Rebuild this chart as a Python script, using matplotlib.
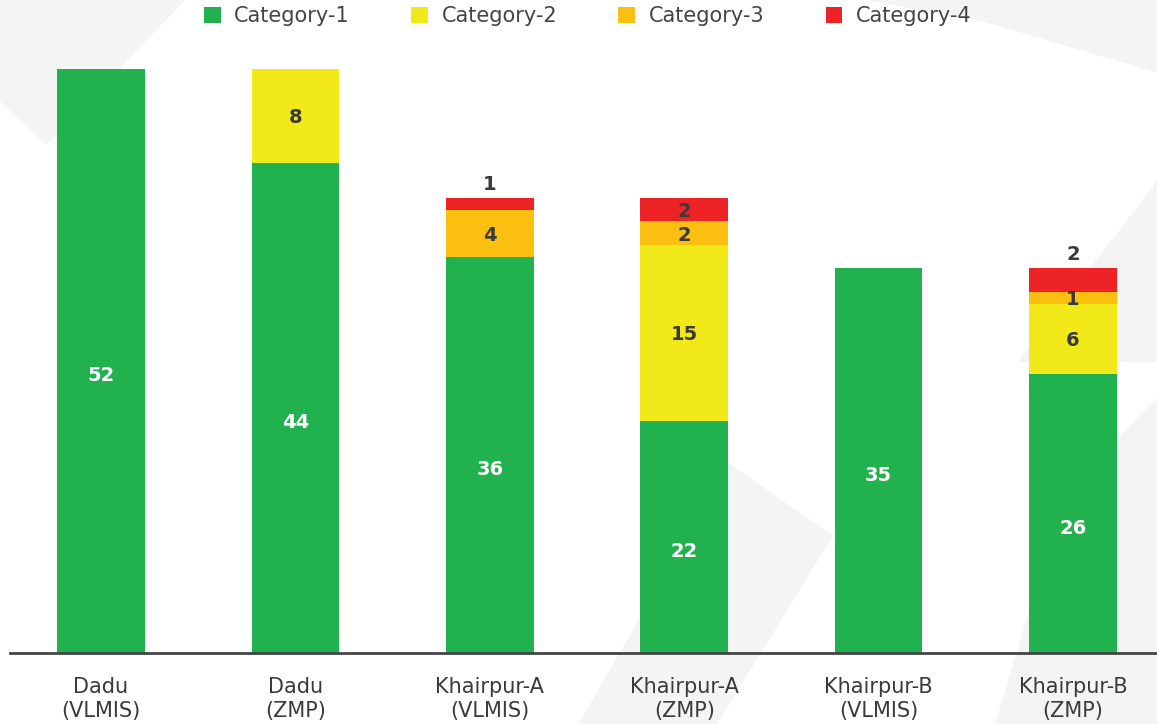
import matplotlib
matplotlib.use("Agg")
import matplotlib.pyplot as plt
from matplotlib.patches import Patch, Polygon

# Datos del grafico
categorias = ["Dadu\n(VLMIS)", "Dadu\n(ZMP)", "Khairpur-A\n(VLMIS)",
              "Khairpur-A\n(ZMP)", "Khairpur-B\n(VLMIS)", "Khairpur-B\n(ZMP)"]
series = ["Category-1", "Category-2", "Category-3", "Category-4"]
cat1 = [52, 44, 36, 22, 35, 26]
cat2 = [0, 8, 0, 15, 0, 6]
cat3 = [0, 0, 4, 2, 0, 1]
cat4 = [0, 0, 1, 2, 0, 2]
# etiquetas que van encima de la barra (serie 4)
encima = [False, False, True, False, False, True]

colores = ["#21b24f", "#f2ea18", "#fbbf10", "#ee2325"]
color_txt = ["white", "#3a3a3a", "#3a3a3a", "#3a3a3a"]

plt.rcParams['font.family'] = ['DejaVu Sans']

W, H = 1157, 724
fig = plt.figure(figsize=(W / 100, H / 100), dpi=100)
fig.patch.set_facecolor("white")

# fondo con formas geometricas suaves (eje de fondo)
fondo = fig.add_axes([0, 0, 1, 1], zorder=-1)
fondo.set_xlim(0, 1)
fondo.set_ylim(0, 1)
fondo.axis("off")
formas = [
    [(0, 1), (0.16, 1), (0.04, 0.80), (0, 0.86)],
    [(0.50, 0.0), (0.62, 0.0), (0.72, 0.26), (0.63, 0.36)],
    [(0.86, 0.0), (1.0, 0.0), (1.0, 0.45), (0.92, 0.32)],
    [(0.88, 0.5), (1.0, 0.75), (1.0, 0.5)],
    [(0.75, 1.0), (1.0, 1.0), (1.0, 0.9), (0.85, 0.97)],
]
for f in formas:
    fondo.add_patch(Polygon(f, closed=True, facecolor="#f4f4f4", edgecolor="none"))

ax = fig.add_axes([10 / W, 1 - 653 / H, (W - 10) / W, (653 - 69) / H])
ax.patch.set_alpha(0)

x = list(range(len(categorias)))
ancho = 0.45
capas = [cat1, cat2, cat3, cat4]
base = [0] * len(x)
for k, valores in enumerate(capas):
    ax.bar(x, valores, ancho, bottom=base, color=colores[k], zorder=2)
    for i, v in enumerate(valores):
        if v == 0:
            continue
        if k == 3 and encima[i]:
            ax.annotate(str(v), (i, base[i] + v), xytext=(0, 10), textcoords="offset points",
                        ha="center", va="center", fontsize=14, fontweight="bold",
                        color="#3a3a3a", zorder=3)
        else:
            ax.annotate(str(v), (i, base[i] + v / 2), xytext=(0, -1.5), textcoords="offset points",
                        ha="center", va="center", fontsize=14,
                        fontweight="bold", color=color_txt[k], zorder=3)
    base = [b + v for b, v in zip(base, valores)]

ax.set_ylim(2.2, 52)
ax.set_xlim(-0.468, 5.432)
ax.set_yticks([])
ax.set_xticks(x)
ax.set_xticklabels(categorias, fontsize=15, color="#3a3a3a", linespacing=1.28)
ax.tick_params(axis="x", length=0, pad=17)
for s in ["top", "right", "left"]:
    ax.spines[s].set_visible(False)
ax.spines["bottom"].set_color("#444444")
ax.spines["bottom"].set_linewidth(2)

manijas = [Patch(facecolor=c, edgecolor="none") for c in colores]
fig.legend(manijas, series, loc="center", bbox_to_anchor=(0.508, 1 - 16 / H), ncol=4,
           frameon=False, fontsize=15, handlelength=0.8, handleheight=0.8,
           columnspacing=2.95, handletextpad=0.65, labelcolor="#444444",
           borderaxespad=0)

fig.savefig("out.png", dpi=100)
